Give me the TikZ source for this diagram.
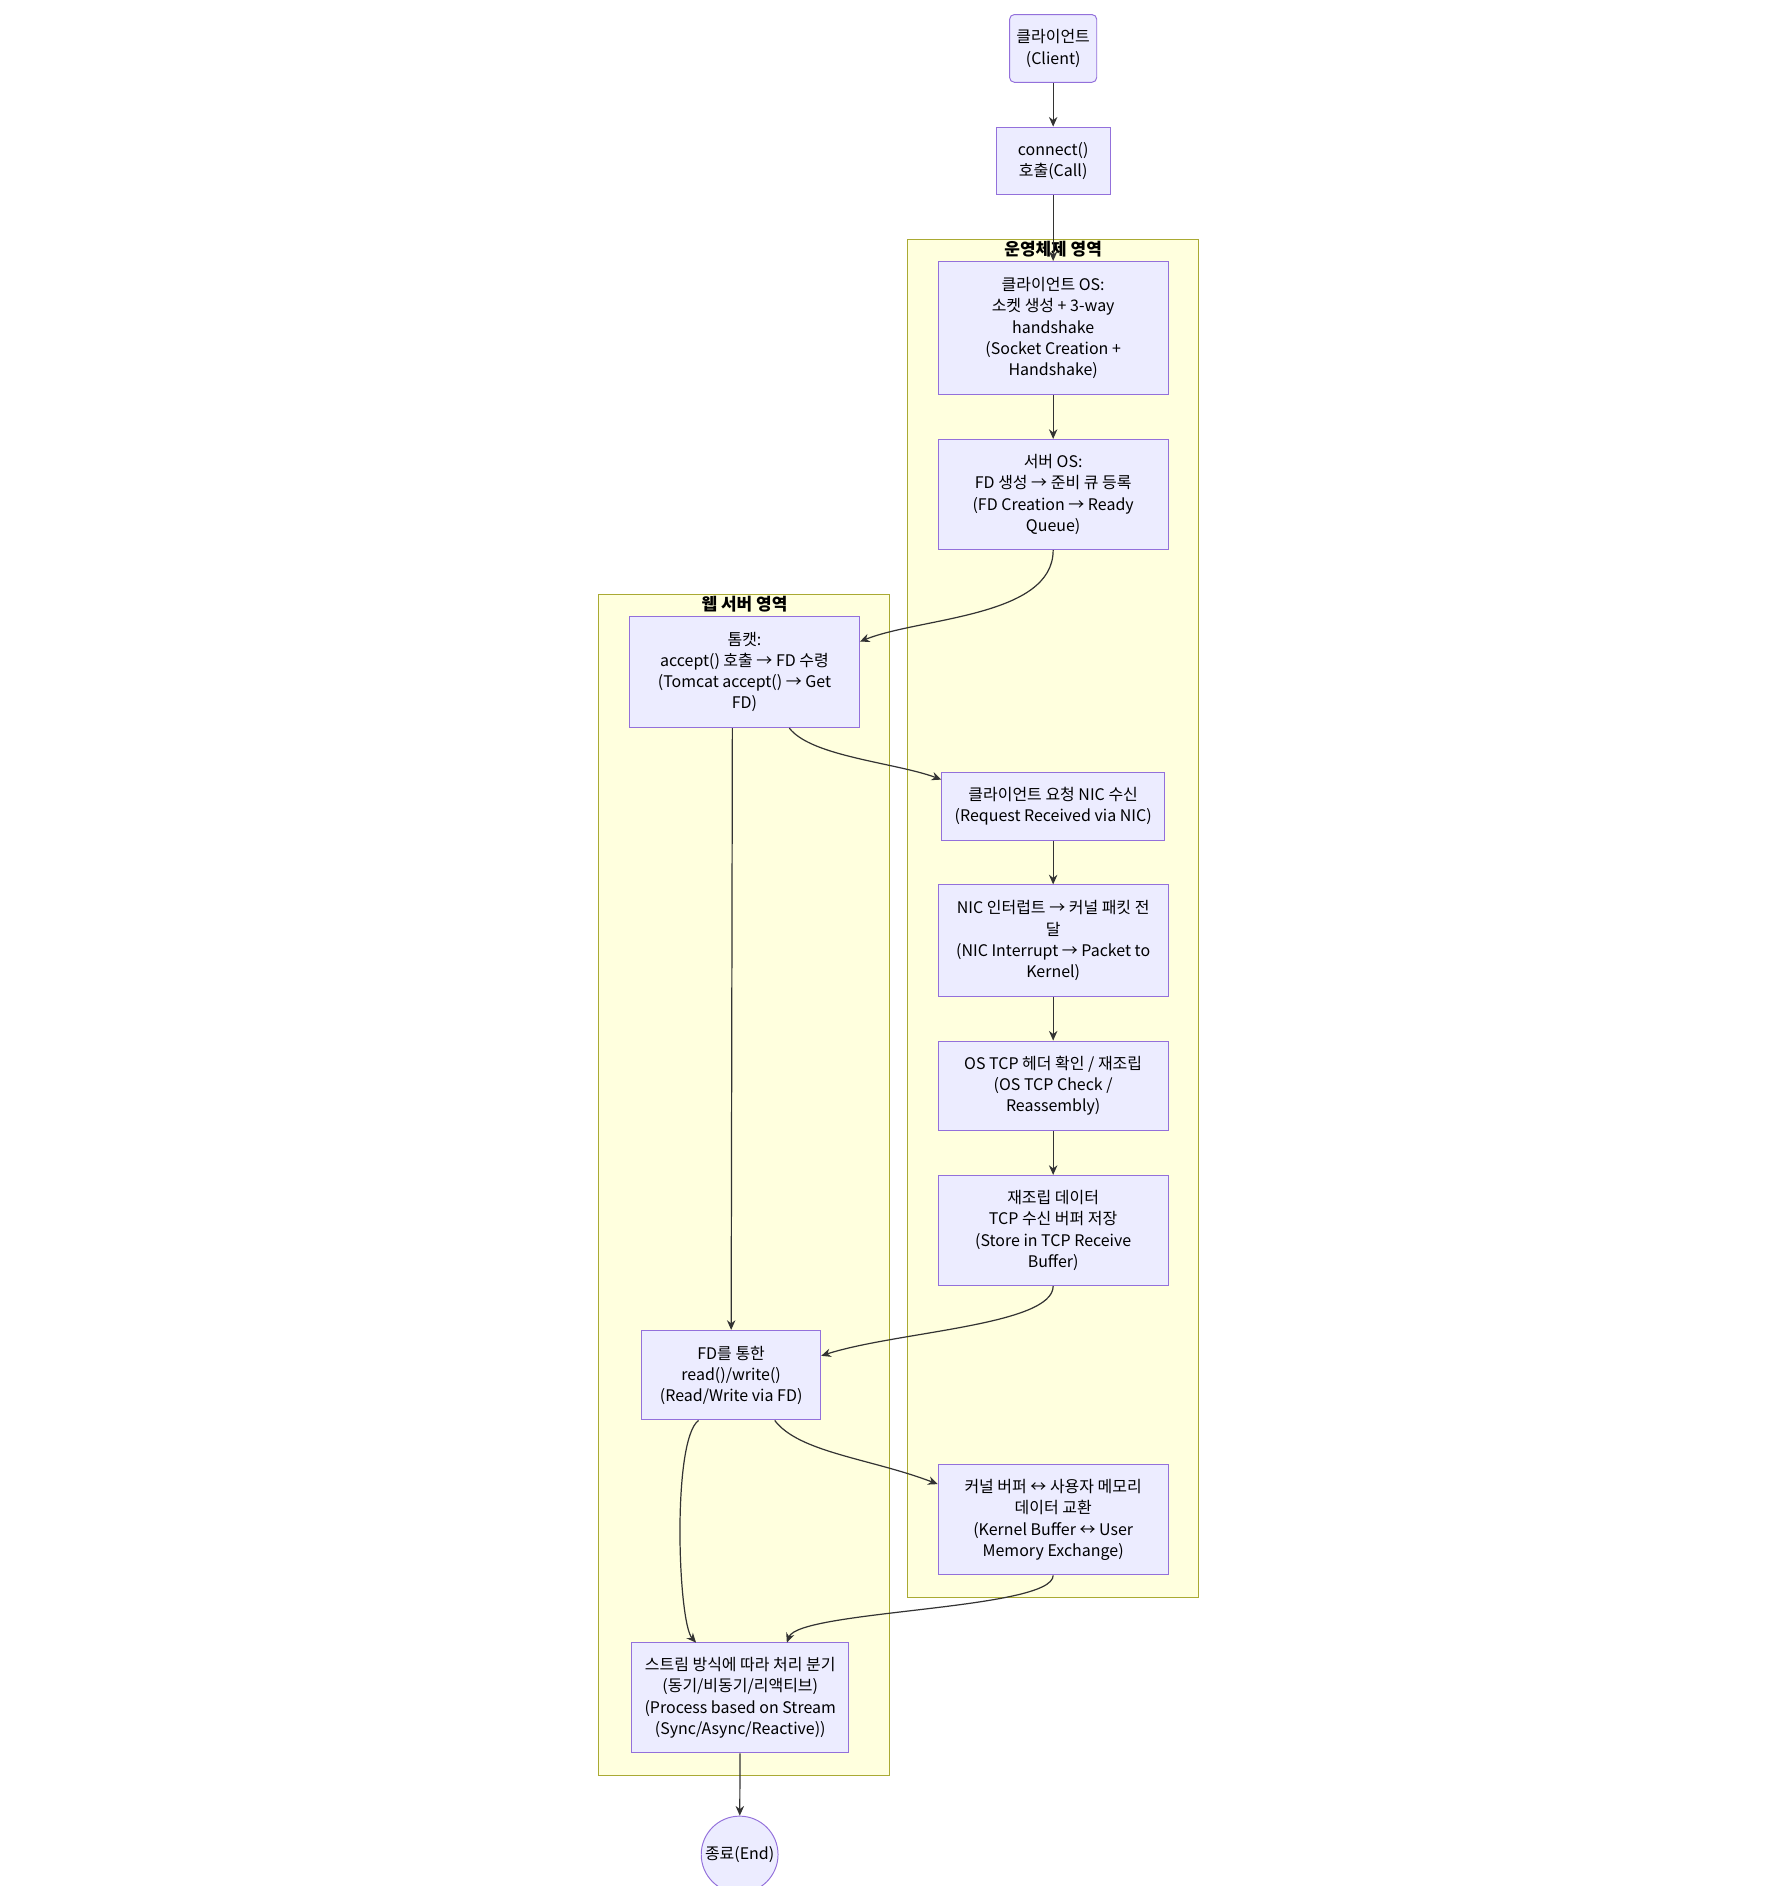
\documentclass[tikz,border=0pt]{standalone}
\usepackage{fontspec}
\setmainfont{Noto Sans CJK KR}
\usetikzlibrary{arrows.meta,positioning}
\definecolor{boxfill}{HTML}{ECECFF}
\definecolor{boxline}{HTML}{9370DB}
\definecolor{areafill}{HTML}{FFFFDE}
\definecolor{arealine}{HTML}{AAAA33}
\definecolor{edgecol}{HTML}{333333}
\begin{document}
\begin{tikzpicture}[x=0.5pt,y=-0.5pt,
  every node/.style={font=\fontsize{6.6}{8.75}\selectfont,align=center,inner sep=1pt},
  stepbox/.style={draw=boxline,fill=boxfill,line width=0.4pt,minimum width=#1*0.5pt},
  stepbox/.default=190,
  area/.style={draw=arealine,fill=areafill,line width=0.4pt},
  flow/.style={draw=edgecol,line width=0.5pt,-{Stealth[length=4pt,width=3.5pt]}}]
  \useasboundingbox (0,0) rectangle (1470,1558);

  % Areas
  \draw[area] (750,198) rectangle (990,1320);
  \node[font=\fontsize{7}{8.75}\selectfont\bfseries] (osarea) at (870,206) {운영체제 영역};
  \draw[area] (494,491) rectangle (735,1467);
  \node[font=\fontsize{7}{8.75}\selectfont\bfseries] (webarea) at (615,499) {웹 서버 영역};

  % Steps
  \node[stepbox=72,minimum height=28pt,rounded corners=2pt] (client) at (870,40) {클라이언트\\(Client)};
  \node[stepbox=94,minimum height=28pt] (connect) at (870,133) {connect()\\호출(Call)};
  \node[stepbox,minimum height=55pt] (osclient) at (870,271) {클라이언트 OS:\\소켓 생성 + 3-way\\handshake\\(Socket Creation +\\Handshake)};
  \node[stepbox,minimum height=45.5pt] (serveros) at (870,408.5) {서버 OS:\\FD 생성 → 준비 큐 등록\\(FD Creation → Ready\\Queue)};
  \node[stepbox,minimum height=46pt] (tomcat) at (615,555) {톰캣:\\accept() 호출 → FD 수령\\(Tomcat accept() → Get\\FD)};
  \node[stepbox=184,minimum height=28pt] (nicrecv) at (870,666) {클라이언트 요청 NIC 수신\\(Request Received via NIC)};
  \node[stepbox,minimum height=46pt] (nicint) at (870,777) {NIC 인터럽트 → 커널 패킷 전\\달\\(NIC Interrupt → Packet to\\Kernel)};
  \node[stepbox,minimum height=37pt] (tcpcheck) at (870,897) {OS TCP 헤더 확인 / 재조립\\(OS TCP Check /\\Reassembly)};
  \node[stepbox,minimum height=45.5pt] (rxbuffer) at (870,1016.5) {재조립 데이터\\TCP 수신 버퍼 저장\\(Store in TCP Receive\\Buffer)};
  \node[stepbox=148,minimum height=37pt] (readwrite) at (604,1136) {FD를 통한\\read()/write()\\(Read/Write via FD)};
  \node[stepbox,minimum height=45.5pt] (exchange) at (870,1255.5) {커널 버퍼 ↔ 사용자 메모리\\데이터 교환\\(Kernel Buffer ↔ User\\Memory Exchange)};
  \node[stepbox=179,minimum height=45.5pt] (stream) at (611.5,1402.5) {스트림 방식에 따라 처리 분기\\(동기/비동기/리액티브)\\(Process based on Stream\\(Sync/Async/Reactive))};
  \node[draw=boxline,fill=boxfill,circle,minimum size=29pt] (finish) at (611,1532) {종료(End)};

  % Connectors
  \draw[flow] (client) -- (connect);
  \draw[flow] (connect) -- (osclient);
  \draw[flow] (osclient) -- (serveros);
  \draw[flow] (serveros.south) .. controls (870,510) and (760,510) .. (tomcat.east|-,530);
  \draw[flow] ([xshift=18.5pt]tomcat.south) .. controls (670,625) and (740,630) .. (nicrecv.west|-,644);
  \draw[flow] ([xshift=-5pt]tomcat.south) -- ([xshift=0pt]readwrite.north);
  \draw[flow] (nicrecv) -- (nicint);
  \draw[flow] (nicint) -- (tcpcheck);
  \draw[flow] (tcpcheck) -- (rxbuffer);
  \draw[flow] (rxbuffer.south) .. controls (870,1095) and (740,1100) .. (readwrite.east|-,1120);
  \draw[flow] ([xshift=18pt]readwrite.south) .. controls (660,1200) and (720,1205) .. (exchange.west|-,1226);
  \draw[flow] ([xshift=-13.5pt]readwrite.south) .. controls (555,1190) and (560,1340) .. (575,1357);
  \draw[flow] (exchange.south) .. controls (870,1330) and (660,1330) .. (650,1357);
  \draw[flow] (stream) -- (finish);
\end{tikzpicture}
\end{document}
